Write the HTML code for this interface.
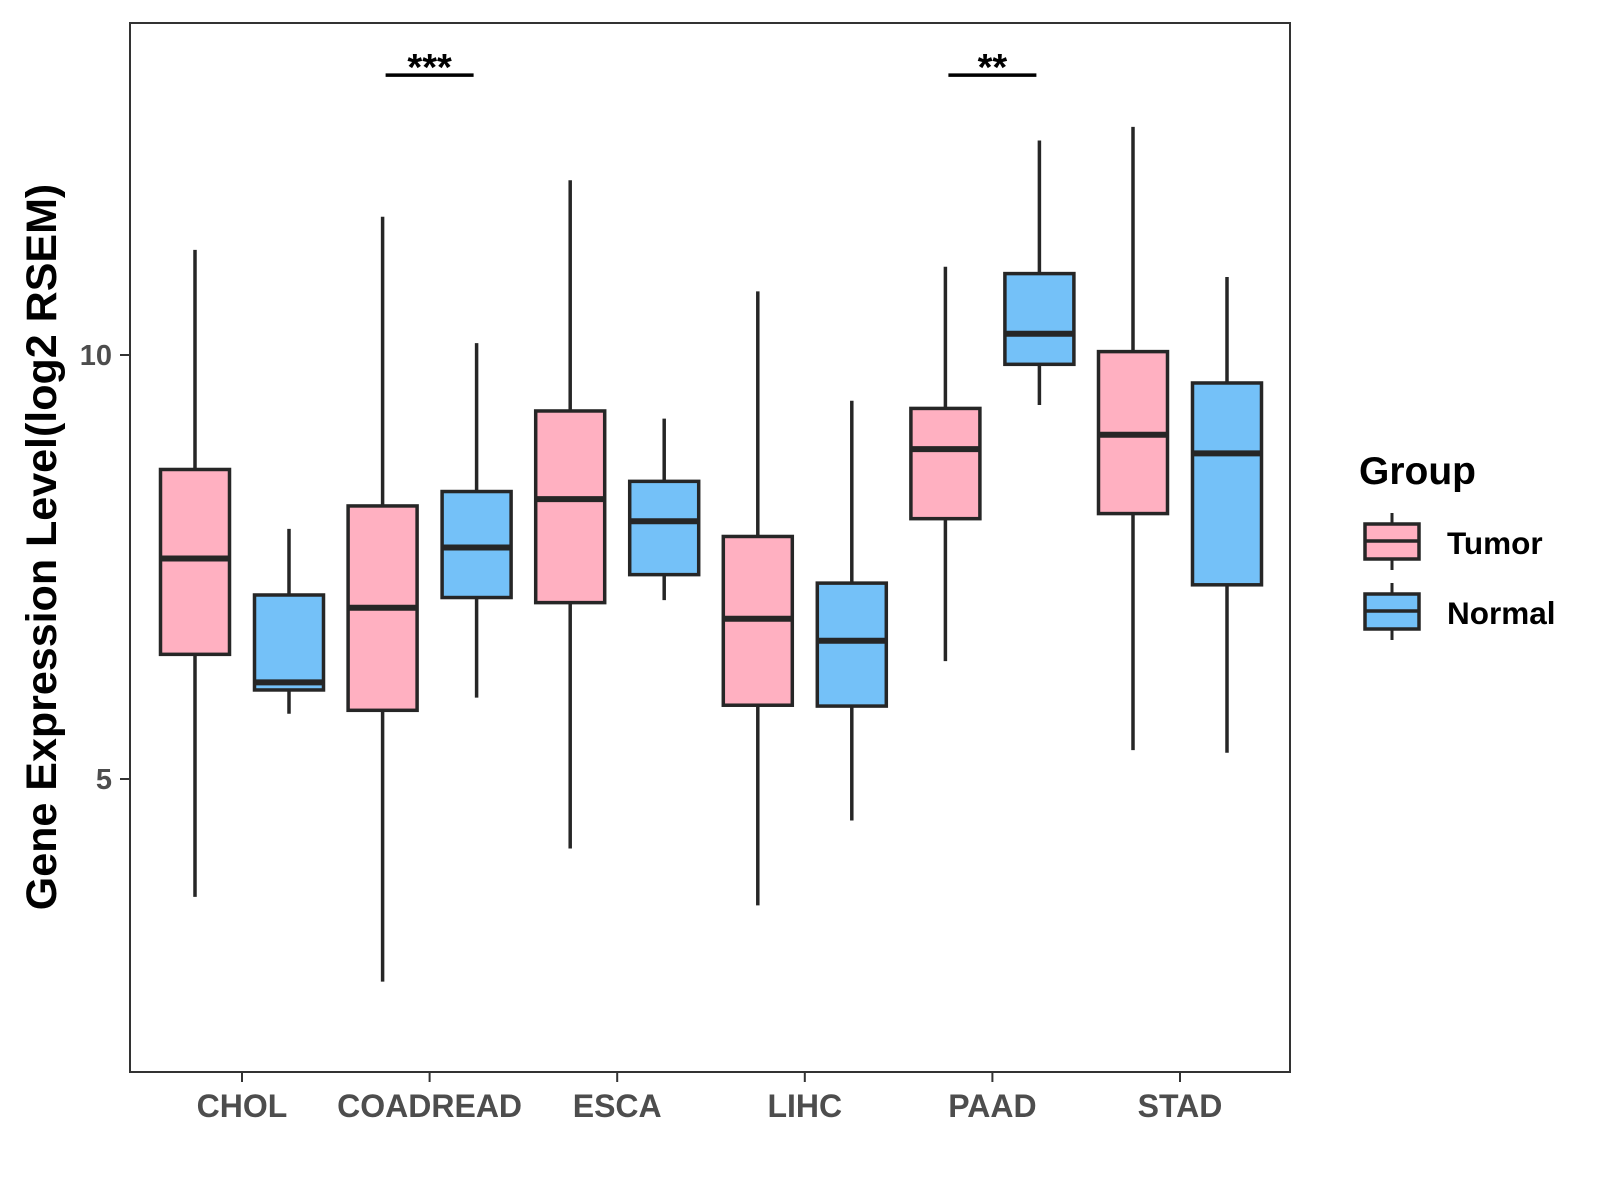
<!DOCTYPE html>
<html><head><meta charset="utf-8"><style>
html,body{margin:0;padding:0;background:#fff;}
svg{display:block;font-family:"Liberation Sans",Arial,sans-serif;}
</style></head><body>
<svg id="chart" width="1600" height="1200" viewBox="0 0 1600 1200">
<rect x="0" y="0" width="1600" height="1200" fill="#fff"/>
<g id="plot"></g>
<rect x="130" y="23" width="1160" height="1049" fill="none" stroke="#333" stroke-width="2"/>
<text transform="translate(56,547) rotate(-90)" text-anchor="middle" font-size="43" font-weight="bold" fill="#000">Gene Expression Level(log2 RSEM)</text>
<g>
<text x="1359" y="484" font-size="39" font-weight="bold" fill="#000">Group</text>
<g>
<line x1="1392" y1="513" x2="1392" y2="570" stroke="#262626" stroke-width="3"/>
<rect x="1365" y="524" width="54" height="35" fill="#FFB0C1" stroke="#262626" stroke-width="3.5"/>
<line x1="1365" y1="541" x2="1419" y2="541" stroke="#262626" stroke-width="3.5"/>
<text x="1447" y="554" font-size="31.5" font-weight="bold" fill="#000">Tumor</text>
</g>
<g>
<line x1="1392" y1="583" x2="1392" y2="640" stroke="#262626" stroke-width="3"/>
<rect x="1365" y="594" width="54" height="35" fill="#74C1F8" stroke="#262626" stroke-width="3.5"/>
<line x1="1365" y1="611" x2="1419" y2="611" stroke="#262626" stroke-width="3.5"/>
<text x="1447" y="624" font-size="31.5" font-weight="bold" fill="#000">Normal</text>
</g>
</g>
</svg>
<script>
const categories = ["CHOL","COADREAD","ESCA","LIHC","PAAD","STAD"];
const groups = ["Tumor","Normal"];
// [min, q1, median, q3, max]
const tumorStats = [
  [3.61,6.47,7.60,8.65,11.24],
  [2.61,5.81,7.02,8.22,11.63],
  [4.18,7.08,8.30,9.34,12.06],
  [3.51,5.87,6.89,7.86,10.75],
  [6.39,8.07,8.89,9.37,11.04],
  [5.34,8.13,9.06,10.04,12.69]
];
const normalStats = [
  [5.77,6.05,6.14,7.17,7.95],
  [5.96,7.14,7.73,8.39,10.14],
  [7.11,7.41,8.04,8.51,9.25],
  [4.51,5.86,6.63,7.31,9.46],
  [9.41,9.89,10.25,10.96,12.53],
  [5.31,7.29,8.84,9.67,10.92]
];
const yTicks = [5,10];
const sigCategories = ["COADREAD","PAAD"];
const sigLabels = ["***","**"];
const sigLevel = [13.30,13.30];

const NS="http://www.w3.org/2000/svg";
const plot=document.getElementById('plot');
const yDomain=[1.545,13.915], yRange=[1072,23];
function yScale(v){return yRange[0]+(v-yDomain[0])/(yDomain[1]-yDomain[0])*(yRange[1]-yRange[0]);}
function xScale(i){return 242+i*187.6;}
const dodge=47, boxW=69;
function mk(tag,attrs,parent){const e=document.createElementNS(NS,tag);for(const k in attrs)e.setAttribute(k,attrs[k]);(parent||plot).appendChild(e);return e;}

yTicks.forEach(t=>{
  const y=yScale(t);
  const g=mk('g',{});
  
  
  mk('line',{x1:120,y1:y,x2:130,y2:y,stroke:'#333','stroke-width':2},g);
  const tx=mk('text',{x:112,y:y+10,'text-anchor':'end','font-size':29,'font-weight':'bold',fill:'#4d4d4d'},g);
  tx.textContent=t;
});
categories.forEach((c,i)=>{
  const x=xScale(i);
  const g=mk('g',{});
  
  
  mk('line',{x1:x,y1:1072,x2:x,y2:1082,stroke:'#333','stroke-width':2},g);
  const tx=mk('text',{x:x,y:1117,'text-anchor':'middle','font-size':32,'font-weight':'bold',fill:'#4d4d4d'},g);
  tx.textContent=c;
});
function drawBox(s,cx,fill,name){
  const g=mk('g',{});
  
  
  mk('line',{x1:cx,y1:yScale(s[4]),x2:cx,y2:yScale(s[0]),stroke:'#262626','stroke-width':3.5},g);
  const top=yScale(s[3]),bot=yScale(s[1]);
  mk('rect',{x:cx-boxW/2,y:top,width:boxW,height:bot-top,fill:fill,stroke:'#262626','stroke-width':3.5},g);
  mk('line',{x1:cx-boxW/2,y1:yScale(s[2]),x2:cx+boxW/2,y2:yScale(s[2]),stroke:'#262626','stroke-width':6},g);
}
categories.forEach((c,i)=>{
  drawBox(tumorStats[i],xScale(i)-dodge,'#FFB0C1','box-'+c.toLowerCase()+'-tumor');
  drawBox(normalStats[i],xScale(i)+dodge,'#74C1F8','box-'+c.toLowerCase()+'-normal');
});
sigCategories.forEach((c,k)=>{
  const i=categories.indexOf(c), x=xScale(i), y=yScale(sigLevel[k]);
  const g=mk('g',{});
  
  
  mk('line',{x1:x-44,y1:y,x2:x+44,y2:y,stroke:'#000','stroke-width':3.5},g);
  const t=mk('text',{x:x,y:y+5,'text-anchor':'middle','font-size':38,'font-weight':'bold',fill:'#000'},g);
  t.textContent=sigLabels[k];
});
</script>
</body></html>
